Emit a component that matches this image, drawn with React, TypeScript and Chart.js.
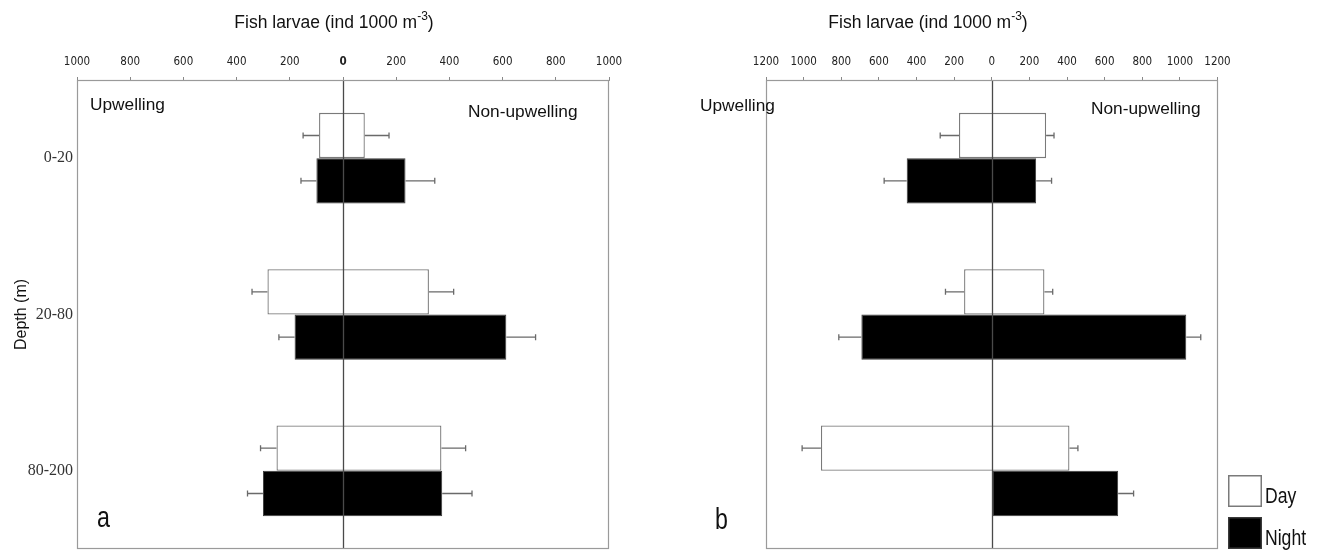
import React, { useEffect, useRef } from 'react';
import { Chart, registerables } from 'chart.js';

Chart.register(...registerables);

// ---------- data ----------
const depthLabels = ['0-20', '20-80', '80-200'];
const seriesNames = ['Day', 'Night'];

// Panel a (upwelling values drawn to the left, non-upwelling to the right)
const aDayUpwelling = [90, 284, 250];
const aDayNonUpwelling = [82, 323, 370];
const aNightUpwelling = [100, 182, 301];
const aNightNonUpwelling = [235, 614, 373];
const aDayUpwellingErr = [60, 58, 60];
const aDayNonUpwellingErr = [91, 93, 91];
const aNightUpwellingErr = [58, 59, 58];
const aNightNonUpwellingErr = [110, 110, 112];

// Panel b
const bDayUpwelling = [174, 147, 908];
const bDayNonUpwelling = [289, 280, 413];
const bNightUpwelling = [452, 693, 0];
const bNightNonUpwelling = [236, 1034, 672];
const bDayUpwellingErr = [100, 99, 100];
const bDayNonUpwellingErr = [42, 44, 45];
const bNightUpwellingErr = [120, 120, 0];
const bNightNonUpwellingErr = [82, 77, 82];

// axis ranges / tick steps
const aAxisMax = 1000;
const bAxisMax = 1200;
const tickStep = 200;

const axisTitleMain = 'Fish larvae (ind 1000 m';
const axisTitleSup = '-3';
const axisTitleTail = ')';
const yAxisTitle = 'Depth (m)';
const leftRegion = 'Upwelling';
const rightRegion = 'Non-upwelling';

// ---------- styling ----------
const SANS = '"Liberation Sans", Arial, sans-serif';
const NARROW = '"Liberation Sans Narrow", "DejaVu Sans Condensed", "Liberation Sans", sans-serif';
const SERIF = '"Liberation Serif", "Times New Roman", serif';

const floating = (up: number[], non: number[]) => up.map((u, i) => [-u, non[i]]);

function drawCondensed(ctx: any, text: string, x: number, y: number, font: string, sx: number) {
  ctx.save();
  ctx.font = font;
  ctx.textAlign = 'left';
  ctx.textBaseline = 'alphabetic';
  ctx.translate(x, y);
  ctx.scale(sx, 1);
  ctx.fillText(text, 0, 0);
  ctx.restore();
}

const decorPlugin = {
  id: 'panelDecor',
  afterDatasetsDraw(chart: any, _args: any, opts: any) {
    const { ctx, chartArea: ca, scales } = chart;
    const x = scales.x;
    ctx.save();
    // zero line
    const x0 = Math.round(x.getPixelForValue(0)) + 0.5;
    ctx.strokeStyle = '#4a4a4a';
    ctx.lineWidth = 1.3;
    ctx.beginPath();
    ctx.moveTo(x0, ca.top);
    ctx.lineTo(x0, ca.bottom);
    ctx.stroke();

    // error bars
    ctx.strokeStyle = '#6a6a6a';
    ctx.lineWidth = 1.3;
    (opts.errors || []).forEach((e: any, di: number) => {
      const meta = chart.getDatasetMeta(di);
      meta.data.forEach((bar: any, j: number) => {
        const y = bar.y;
        const segs: number[][] = [];
        if (e.up[j] > 0 && e.upErr[j] > 0) segs.push([-e.up[j], -e.up[j] - e.upErr[j]]);
        if (e.non[j] > 0 && e.nonErr[j] > 0) segs.push([e.non[j], e.non[j] + e.nonErr[j]]);
        segs.forEach(([a, b]) => {
          const p1 = x.getPixelForValue(a);
          const p2 = x.getPixelForValue(b);
          ctx.beginPath();
          ctx.moveTo(p1, y);
          ctx.lineTo(p2, y);
          ctx.moveTo(p2, y - 3);
          ctx.lineTo(p2, y + 3);
          ctx.stroke();
        });
      });
    });
    ctx.restore();
  },
  afterDraw(chart: any, _args: any, opts: any) {
    const { ctx, chartArea: ca } = chart;
    ctx.save();
    // frame
    ctx.strokeStyle = '#9a9a9a';
    ctx.lineWidth = 1.2;
    const l = Math.round(ca.left) + 0.5;
    const t = Math.round(ca.top) + 0.5;
    const r = Math.round(ca.right) - 0.5;
    const b = Math.round(ca.bottom) - 0.5;
    ctx.strokeRect(l, t, r - l, b - t);

    // texts
    ctx.fillStyle = '#111';
    (opts.texts || []).forEach((tx: any) => {
      drawCondensed(ctx, tx.text, tx.x, tx.y, tx.font, tx.sx || 1);
    });

    // axis title with superscript
    if (opts.title) {
      const tt = opts.title;
      ctx.textBaseline = 'middle';
      ctx.textAlign = 'left';
      const mainFont = `17.5px ${SANS}`;
      const supFont = `12px ${SANS}`;
      ctx.font = mainFont;
      const w1 = ctx.measureText(axisTitleMain).width;
      const w3 = ctx.measureText(axisTitleTail).width;
      ctx.font = supFont;
      const w2 = ctx.measureText(axisTitleSup).width;
      let cx = tt.cx - (w1 + w2 + w3) / 2;
      ctx.font = mainFont;
      ctx.fillText(axisTitleMain, cx, tt.cy);
      cx += w1;
      ctx.font = supFont;
      ctx.fillText(axisTitleSup, cx, tt.cy - 6);
      cx += w2;
      ctx.font = mainFont;
      ctx.fillText(axisTitleTail, cx, tt.cy);
    }

    // legend
    if (opts.legend) {
      const lg = opts.legend;
      chart.data.datasets.forEach((ds: any, i: number) => {
        const by = lg.y + i * lg.step;
        ctx.fillStyle = ds.backgroundColor;
        ctx.fillRect(lg.x, by, lg.w, lg.h);
        ctx.strokeStyle = ds.borderColor;
        ctx.lineWidth = 1.5;
        ctx.strokeRect(lg.x + 0.75, by + 0.75, lg.w - 1.5, lg.h - 1.5);
        ctx.fillStyle = '#111';
        drawCondensed(ctx, ds.label, lg.x + lg.w + 3, by + lg.textDy, `22px ${SANS}`, 0.8);
      });
    }
    ctx.restore();
  },
};

function makeDatasets(dayUp: number[], dayNon: number[], nightUp: number[], nightNon: number[]) {
  return [
    {
      label: seriesNames[0],
      data: floating(dayUp, dayNon),
      backgroundColor: '#ffffff',
      borderColor: '#7a7a7a',
      borderWidth: 1.3,
      borderSkipped: false,
      categoryPercentage: 0.58,
      barPercentage: 1.0,
    },
    {
      label: seriesNames[1],
      data: floating(nightUp, nightNon),
      backgroundColor: '#000000',
      borderColor: '#3a3a3a',
      borderWidth: 1,
      borderSkipped: false,
      categoryPercentage: 0.58,
      barPercentage: 1.0,
    },
  ];
}

function makeOptions(axisMax: number, showY: boolean, padding: any, decor: any, boldZero: boolean) {
  return {
    animation: false,
    responsive: false,
    maintainAspectRatio: false,
    indexAxis: 'y',
    layout: { padding },
    plugins: {
      legend: { display: false },
      tooltip: { enabled: false },
      title: { display: false },
      panelDecor: decor,
    },
    scales: {
      x: {
        type: 'linear',
        position: 'top',
        min: -axisMax,
        max: axisMax,
        afterFit: (s: any) => {
          s.height = 80;
          s.paddingLeft = 0;
          s.paddingRight = 0;
        },
        ticks: {
          stepSize: tickStep,
          autoSkip: false,
          maxRotation: 0,
          padding: 8,
          color: '#222',
          font: (c: any) => ({
            family: NARROW,
            size: 11.5,
            weight: boldZero && c.tick && c.tick.value === 0 ? 'bold' : 'normal',
          }),
          callback: (v: any) => String(Math.abs(Number(v))),
        },
        grid: { drawOnChartArea: false, drawTicks: true, tickLength: 3, color: '#888' },
        border: { display: true, color: '#9a9a9a' },
      },
      y: {
        type: 'category',
        display: showY,
        afterFit: (s: any) => {
          s.width = 77;
          s.paddingTop = 0;
          s.paddingBottom = 0;
        },
        ticks: { color: '#333', padding: 4, font: { family: SERIF, size: 16 } },
        grid: { display: false, drawTicks: false, tickLength: 0 },
        border: { display: false },
        title: {
          display: true,
          text: yAxisTitle,
          color: '#111',
          font: { family: SANS, size: 16 },
          padding: { top: 12, bottom: 0 },
        },
      },
    },
  };
}

export default function App() {
  const refA = useRef<HTMLCanvasElement>(null);
  const refB = useRef<HTMLCanvasElement>(null);

  useEffect(() => {
    const chartA = new Chart(refA.current as HTMLCanvasElement, {
      type: 'bar',
      data: {
        labels: depthLabels,
        datasets: makeDatasets(aDayUpwelling, aDayNonUpwelling, aNightUpwelling, aNightNonUpwelling) as any,
      },
      options: makeOptions(aAxisMax, true, { left: 0, right: 51, top: 0, bottom: 1 }, {
        errors: [
          { up: aDayUpwelling, non: aDayNonUpwelling, upErr: aDayUpwellingErr, nonErr: aDayNonUpwellingErr },
          { up: aNightUpwelling, non: aNightNonUpwelling, upErr: aNightUpwellingErr, nonErr: aNightNonUpwellingErr },
        ],
        title: { cx: 334, cy: 23 },
        texts: [
          { text: leftRegion, x: 90, y: 110, font: `17.3px ${SANS}` },
          { text: rightRegion, x: 468, y: 117, font: `17.3px ${SANS}` },
          { text: 'a', x: 97, y: 527, font: `29px ${SANS}`, sx: 0.8 },
        ],
      }, true) as any,
      plugins: [decorPlugin],
    });

    const chartB = new Chart(refB.current as HTMLCanvasElement, {
      type: 'bar',
      data: {
        labels: depthLabels,
        datasets: makeDatasets(bDayUpwelling, bDayNonUpwelling, bNightUpwelling, bNightNonUpwelling) as any,
      },
      options: makeOptions(bAxisMax, false, { left: 29, right: 104.5, top: 0, bottom: 1 }, {
        errors: [
          { up: bDayUpwelling, non: bDayNonUpwelling, upErr: bDayUpwellingErr, nonErr: bDayNonUpwellingErr },
          { up: bNightUpwelling, non: bNightNonUpwelling, upErr: bNightUpwellingErr, nonErr: bNightNonUpwellingErr },
        ],
        title: { cx: 268, cy: 23 },
        texts: [
          { text: leftRegion, x: 40, y: 111, font: `17.3px ${SANS}` },
          { text: rightRegion, x: 431, y: 114, font: `17.3px ${SANS}` },
          { text: 'b', x: 55, y: 529, font: `29px ${SANS}`, sx: 0.8 },
        ],
        legend: { x: 568, y: 475, w: 34, h: 32, step: 42, textDy: 28 },
      }, false) as any,
      plugins: [decorPlugin],
    });

    return () => {
      chartA.destroy();
      chartB.destroy();
    };
  }, []);

  return (
    <div style={{ position: 'absolute', left: 0, top: 0, width: 1322, height: 550, background: '#fff' }}>
      <canvas ref={refA} width={660} height={550} style={{ position: 'absolute', left: 0, top: 0, width: 660, height: 550 }} />
      <canvas ref={refB} width={662} height={550} style={{ position: 'absolute', left: 660, top: 0, width: 662, height: 550 }} />
    </div>
  );
}
